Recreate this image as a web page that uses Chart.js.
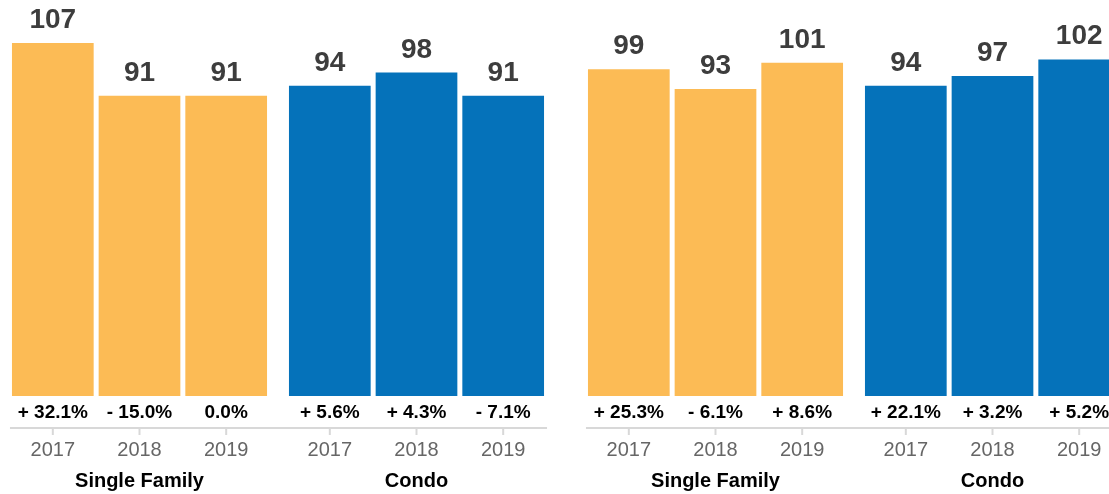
<!DOCTYPE html>
<html>
<head>
<meta charset="utf-8">
<script src="https://cdn.jsdelivr.net/npm/chart.js@4"></script>
<style>
  html, body { margin: 0; padding: 0; background: #fff; overflow: hidden; width: 1109px; height: 494px; }
  .panel { position: absolute; top: 0; width: 554px; height: 494px; }
  #p1 { left: 1px; }
  #p2 { left: 577px; }
</style>
</head>
<body>
<div class="panel" id="p1"><canvas id="c1"></canvas></div>
<div class="panel" id="p2"><canvas id="c2"></canvas></div>
<script>
// ---- data ----
const groups = ['Single Family', 'Condo'];
const years = ['2017', '2018', '2019'];

// panel 1
const leftSingleFamily = [107, 91, 91];
const leftCondo = [94, 98, 91];
const leftSingleFamilyChange = [32.1, -15.0, 0.0];
const leftCondoChange = [5.6, 4.3, -7.1];

// panel 2
const rightSingleFamily = [99, 93, 101];
const rightCondo = [94, 97, 102];
const rightSingleFamilyChange = [25.3, -6.1, 8.6];
const rightCondoChange = [22.1, 3.2, 5.2];

const groupColors = ['#FCBB55', '#0572BA'];

function fmtChange(v) {
  if (v === 0) return '0.0%';
  return (v > 0 ? '+ ' : '- ') + Math.abs(v).toFixed(1) + '%';
}

const FONT = '"Liberation Sans", Arial, Helvetica, sans-serif';

const labelPlugin = {
  id: 'barLabels',
  afterDatasetsDraw(chart, args, opts) {
    const ctx = chart.ctx;
    const changes = opts.changes; // [groupIndex][yearIndex]
    let minX = Infinity, maxX = -Infinity;
    const bars = [];
    chart.data.datasets.forEach((ds, di) => {
      const meta = chart.getDatasetMeta(di);
      meta.data.forEach((el, gi) => {
        const p = el.getProps(['x', 'y', 'width', 'base'], true);
        bars.push({ p, di, gi, value: ds.data[gi] });
        minX = Math.min(minX, p.x - p.width / 2);
        maxX = Math.max(maxX, p.x + p.width / 2);
      });
    });
    ctx.save();
    // axis line
    const axisY = 428;
    ctx.strokeStyle = '#d8d8d8';
    ctx.lineWidth = 2;
    ctx.beginPath();
    ctx.moveTo(minX - 2, axisY);
    ctx.lineTo(maxX + 3, axisY);
    ctx.stroke();
    bars.forEach(({ p, di, gi, value }) => {
      // value label
      ctx.fillStyle = '#3d3d3d';
      ctx.font = 'bold 28px ' + FONT;
      ctx.textAlign = 'center';
      ctx.textBaseline = 'alphabetic';
      ctx.fillText(String(value), p.x, p.y - 15);
      // change label
      ctx.fillStyle = '#000';
      ctx.font = 'bold 19px ' + FONT;
      ctx.textBaseline = 'middle';
      ctx.fillText(fmtChange(changes[gi][di]), p.x, 413);
      // tick mark
      ctx.strokeStyle = '#d8d8d8';
      ctx.lineWidth = 2;
      ctx.beginPath();
      ctx.moveTo(p.x, axisY);
      ctx.lineTo(p.x, axisY + 7);
      ctx.stroke();
      // year
      ctx.fillStyle = '#666';
      ctx.font = '20px ' + FONT;
      ctx.fillText(years[di], p.x, 450);
    });
    ctx.restore();
  }
};

function makeChart(id, sf, condo, sfChange, condoChange) {
  const datasets = years.map((y, i) => ({
    label: y,
    data: [sf[i], condo[i]],
    backgroundColor: groupColors,
    borderWidth: 0,
    barPercentage: 0.9425,
    categoryPercentage: 0.9388
  }));
  return new Chart(document.getElementById(id), {
    type: 'bar',
    data: { labels: groups, datasets },
    options: {
      responsive: true,
      maintainAspectRatio: false,
      animation: false,
      layout: { padding: 0 },
      plugins: {
        legend: { display: false },
        tooltip: { enabled: false },
        barLabels: { changes: [sfChange, condoChange] }
      },
      scales: {
        y: { display: false, min: 0, max: 120 },
        x: {
          grid: { display: false },
          border: { display: false },
          ticks: {
            color: '#000',
            font: { family: FONT, size: 20, weight: 'bold' },
            padding: 65,
            maxRotation: 0
          },
          afterFit(scale) { scale.height = 98; }
        }
      }
    },
    plugins: [labelPlugin]
  });
}

makeChart('c1', leftSingleFamily, leftCondo, leftSingleFamilyChange, leftCondoChange);
makeChart('c2', rightSingleFamily, rightCondo, rightSingleFamilyChange, rightCondoChange);
</script>
</body>
</html>
